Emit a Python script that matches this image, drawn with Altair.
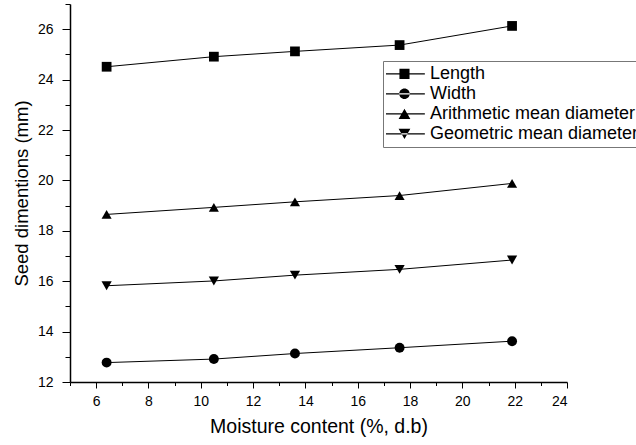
import altair as alt
import pandas as pd

moisture = [6.4, 10.5, 13.6, 17.6, 21.9]
series_names = ["Length", "Width", "Arithmetic mean diameter", "Geometric mean diameter"]
length_vals = [24.51, 24.91, 25.12, 25.37, 26.13]
width_vals = [12.77, 12.91, 13.13, 13.36, 13.62]
arith_vals = [18.65, 18.93, 19.15, 19.40, 19.88]
geo_vals = [15.82, 16.01, 16.24, 16.47, 16.84]

x_ticks = list(range(5, 25))
y_ticks = list(range(12, 28))

all_vals = [length_vals, width_vals, arith_vals, geo_vals]
rows = []
for name, vals in zip(series_names, all_vals):
    for xv, yv in zip(moisture, vals):
        rows.append({"moisture": xv, "value": yv, "series": name})
df = pd.DataFrame(rows)

FONT = "Liberation Sans"

# legend symbols: a thin filled bar (the line) with the marker in the middle
LINE = "M-1.17,-0.026H0.85V0.026H-1.17Z"
P_SQ = LINE + "M-0.36,-0.24H0.12V0.24H-0.36Z"
P_CI = LINE + "M-0.37,0A0.25,0.25 0 1,0 0.13,0A0.25,0.25 0 1,0 -0.37,0Z"
P_TU = LINE + "M-0.12,-0.24L0.16,0.24H-0.40Z"
P_TD = LINE + "M-0.12,0.24L0.16,-0.24H-0.40Z"

x_enc = alt.X(
    "moisture:Q",
    scale=alt.Scale(domain=[5, 24], nice=False, zero=False),
    axis=alt.Axis(
        title="Moisture content (%, d.b)",
        values=x_ticks,
        labelExpr="datum.value % 2 == 0 ? datum.label : ''",
        tickSize={"condition": {"test": "datum.value % 2 == 0", "value": 6}, "value": 3.5},
        labelPadding=6,
        titlePadding=9,
    ),
)
y_enc = alt.Y(
    "value:Q",
    scale=alt.Scale(domain=[12, 27], nice=False, zero=False),
    axis=alt.Axis(
        title="Seed dimentions (mm)",
        values=y_ticks,
        labelExpr="datum.value % 2 == 0 ? datum.label : ''",
        tickSize={"condition": {"test": "datum.value % 2 == 0", "value": 8}, "value": 5},
        labelPadding=9,
        titlePadding=6,
    ),
)

lines = alt.Chart(df).mark_line(color="black", strokeWidth=1).encode(
    x=x_enc, y=y_enc, detail="series:N"
)

points = alt.Chart(df).mark_point(filled=True, color="black", opacity=1).encode(
    x=x_enc,
    y=y_enc,
    shape=alt.Shape(
        "series:N",
        scale=alt.Scale(
            domain=series_names,
            range=["square", "circle", "triangle-up", "triangle-down"],
        ),
        legend=None,
    ),
    size=alt.Size(
        "series:N",
        scale=alt.Scale(domain=series_names, range=[95, 105, 125, 125]),
        legend=None,
    ),
)

legend_layer = alt.Chart(df).mark_point(
    filled=True, color="black", opacity=0
).encode(
    x=x_enc,
    y=y_enc,
    shape=alt.Shape(
        "series:N",
        scale=alt.Scale(domain=series_names, range=[P_SQ, P_CI, P_TU, P_TD]),
        legend=alt.Legend(
            title=None,
            orient="none",
            legendX=313,
            legendY=57,
            symbolSize=1764,
            symbolOpacity=1,
            clipHeight=19.7,
            rowPadding=0,
            labelOffset=2,
            padding=3,
            strokeColor="#777777",
            fillColor="white",
            labelFont=FONT,
            labelFontSize=18,
            labelColor="black",
            labelLimit=400,
            symbolStrokeWidth=0,
            symbolFillColor="black",
        ),
    ),
)

chart = (
    alt.layer(lines, points, legend_layer)
    .resolve_scale(shape="independent", size="independent")
    .properties(
        width=497,
        height=378,
        padding={"left": 70, "top": 4, "right": 69, "bottom": 63},
        autosize=alt.AutoSizeParams(type="none"),
        background="white",
    )
    .configure_view(stroke=None)
    .configure_axis(
        domainColor="black",
        domainWidth=1.5,
        tickColor="black",
        tickWidth=1,
        labelColor="black",
        labelFont=FONT,
        labelFontSize=14,
        titleFont=FONT,
        titleFontSize=18.5,
        titleFontWeight="normal",
        titleColor="black",
        grid=False,
    )
    .configure_axisX(titleFontSize=19.5)
)

chart.save("out.html", embed_options={"renderer": "svg", "actions": False})
